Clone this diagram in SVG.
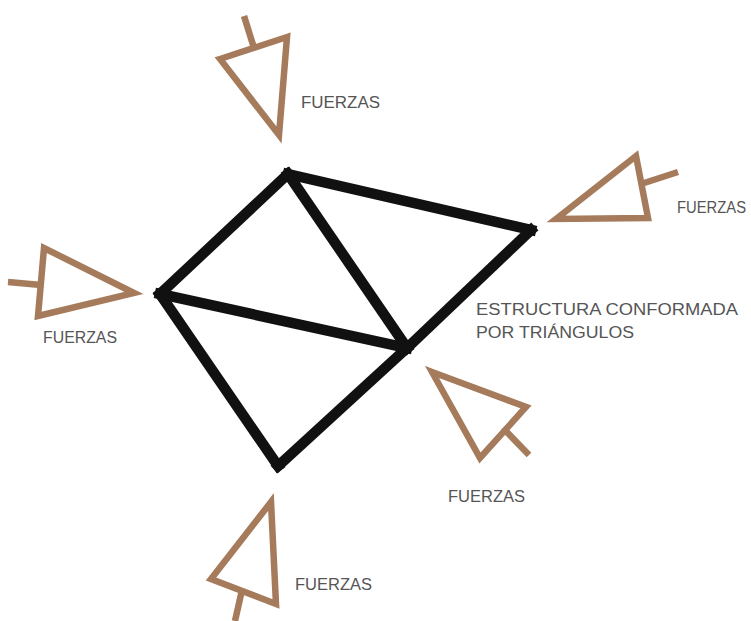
<svg xmlns="http://www.w3.org/2000/svg" width="751" height="621" viewBox="0 0 751 621">
<style>
.bar{stroke:#111;stroke-width:10.5;stroke-linecap:square;fill:none}
.arr{stroke:#a57b5c;stroke-width:6.5;fill:none;stroke-linejoin:miter}
.lbl{font-family:"Liberation Sans",Arial,sans-serif;font-size:16px;fill:#555}
</style>
<rect width="751" height="621" fill="#fff"/>
<g id="connectors">
<line class="bar" x1="288" y1="174" x2="160" y2="294"/>
<line class="bar" x1="288" y1="174" x2="531" y2="230"/>
<line class="bar" x1="288" y1="174" x2="407" y2="348"/>
<line class="bar" x1="160" y1="294" x2="407" y2="348"/>
<line class="bar" x1="160" y1="294" x2="278" y2="466"/>
<line class="bar" x1="278" y1="466" x2="407" y2="348"/>
<line class="bar" x1="407" y1="348" x2="531" y2="230"/>
</g>
<g id="force-top">
<line class="arr" x1="244" y1="16" x2="254" y2="48"/>
<polygon class="arr" points="220,59 287,37 279,135"/>
<text class="lbl" x="301" y="108" textLength="79" lengthAdjust="spacingAndGlyphs">FUERZAS</text>
</g>
<g id="force-right">
<line class="arr" x1="641" y1="184" x2="678" y2="172"/>
<polygon class="arr" points="556,219 636,156 648,218"/>
<text class="lbl" x="677" y="213" textLength="69" lengthAdjust="spacingAndGlyphs">FUERZAS</text>
</g>
<g id="force-left">
<line class="arr" x1="8" y1="282" x2="41" y2="285"/>
<polygon class="arr" points="44,248 38,316 134,293"/>
<text class="lbl" x="43" y="343" textLength="74" lengthAdjust="spacingAndGlyphs">FUERZAS</text>
</g>
<g id="force-lower-right">
<line class="arr" x1="503" y1="428" x2="529" y2="455"/>
<polygon class="arr" points="432,372 526,407 480,458"/>
<text class="lbl" x="448" y="502" textLength="77" lengthAdjust="spacingAndGlyphs">FUERZAS</text>
</g>
<g id="force-bottom">
<line class="arr" x1="242" y1="590" x2="235" y2="621"/>
<polygon class="arr" points="271,502 211,579 276,604"/>
<text class="lbl" x="295" y="590" textLength="77" lengthAdjust="spacingAndGlyphs">FUERZAS</text>
</g>
<g id="label-structure">
<text class="lbl" x="476" y="315" textLength="262" lengthAdjust="spacingAndGlyphs">ESTRUCTURA CONFORMADA</text>
<text class="lbl" x="476" y="338" textLength="158" lengthAdjust="spacingAndGlyphs">POR TRIÁNGULOS</text>
</g>
</svg>
